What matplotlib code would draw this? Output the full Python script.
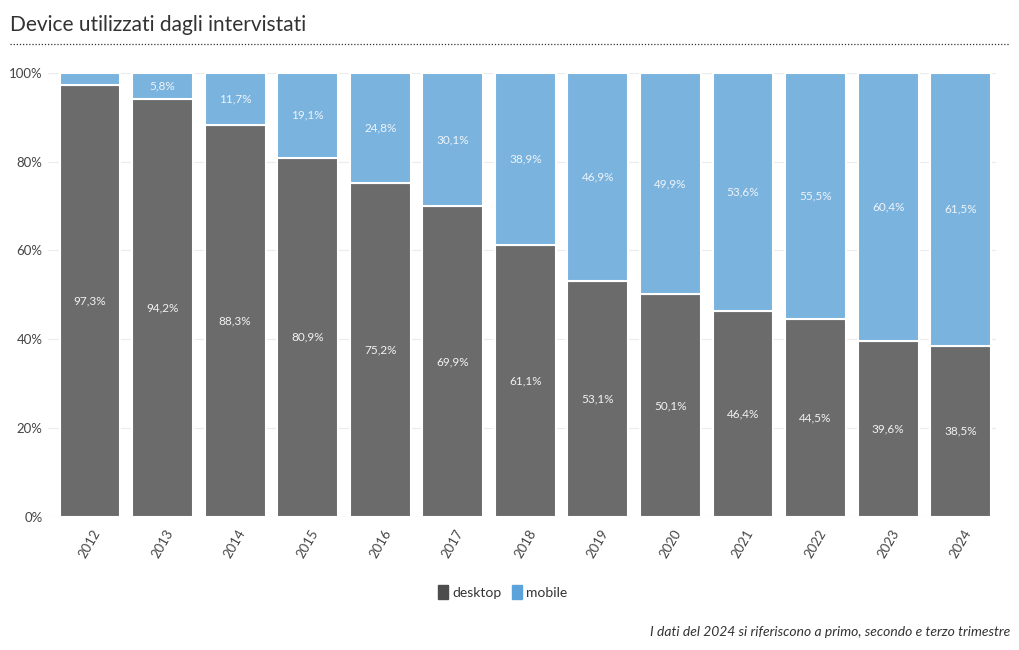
import matplotlib
matplotlib.use('Agg')
import matplotlib.pyplot as plt
from matplotlib.patches import FancyBboxPatch
from matplotlib.lines import Line2D
import numpy as np

plt.rcParams['font.family'] = ['Lato', 'DejaVu Sans']

years = ['2012', '2013', '2014', '2015', '2016', '2017', '2018',
         '2019', '2020', '2021', '2022', '2023', '2024']
desktop = [97.3, 94.2, 88.3, 80.9, 75.2, 69.9, 61.1, 53.1, 50.1, 46.4, 44.5, 39.6, 38.5]
mobile = [2.7, 5.8, 11.7, 19.1, 24.8, 30.1, 38.9, 46.9, 49.9, 53.6, 55.5, 60.4, 61.5]

col_desktop = '#6b6b6b'
col_mobile = '#7ab3de'

fig = plt.figure(figsize=(10.2, 6.5), dpi=100)
ax = fig.add_axes([0.047, 0.205, 0.929, 0.683])

x = np.arange(len(years))
ax.bar(x, desktop, width=0.84, color=col_desktop, edgecolor='white', linewidth=1.5, zorder=3)
ax.bar(x, mobile, width=0.84, bottom=desktop, color=col_mobile, edgecolor='white', linewidth=1.5, zorder=3)

for i in x:
    ax.text(i, desktop[i] / 2, f"{desktop[i]:.1f}%".replace('.', ','),
            ha='center', va='center', color='#f2f2f2', fontsize=8.5, zorder=4)
    if mobile[i] >= 5:
        ax.text(i, desktop[i] + mobile[i] / 2, f"{mobile[i]:.1f}%".replace('.', ','),
                ha='center', va='center', color='#eef4fa', fontsize=8.5, zorder=4)

ax.set_xlim(-0.58, 12.48)
ax.set_ylim(0, 100)
ax.set_yticks([0, 20, 40, 60, 80, 100])
ax.set_yticklabels(['0%', '20%', '40%', '60%', '80%', '100%'])
ax.set_xticks(x)
ax.set_xticklabels(years, rotation=60, ha='center', va='top')
ax.tick_params(axis='both', length=0, labelsize=9.5, labelcolor='#444444')
ax.tick_params(axis='x', pad=8)
ax.tick_params(axis='y', pad=4)
ax.grid(True, color='#ececec', linewidth=0.8, zorder=0)
for s in ax.spines.values():
    s.set_visible(False)

fig.text(0.01, 0.962, 'Device utilizzati dagli intervistati', fontsize=15,
         color='#333333', ha='left', va='center')
fig.add_artist(Line2D([0.01, 0.99], [0.932, 0.932], transform=fig.transFigure,
                      color='#333333', linewidth=0.9, linestyle=(0, (1, 1.5))))

handles = [FancyBboxPatch((0, 0), 1, 1, boxstyle='round,pad=0.1', color='#4d4d4d'),
           FancyBboxPatch((0, 0), 1, 1, boxstyle='round,pad=0.1', color='#5ba3da')]
fig.legend(handles, ['desktop', 'mobile'], loc='center', bbox_to_anchor=(0.493, 0.089),
           ncol=2, frameon=False, fontsize=10, handlelength=0.7, handleheight=1.2,
           handletextpad=0.3, columnspacing=0.8, labelcolor='#333333')

fig.text(0.99, 0.028, 'I dati del 2024 si riferiscono a primo, secondo e terzo trimestre',
         fontsize=10, style='italic', color='#333333', ha='right', va='center')

fig.savefig('out.png', dpi=100, facecolor='white')
